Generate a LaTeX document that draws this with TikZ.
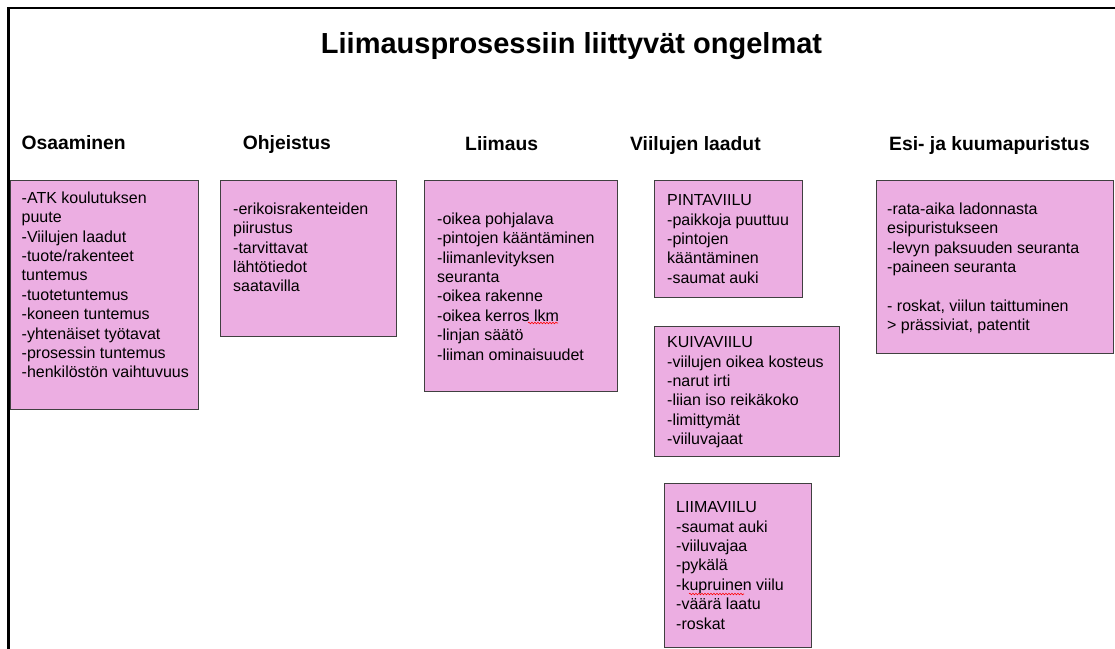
\documentclass[tikz,border=0pt]{standalone}
\usepackage{fontspec}
\setmainfont{Liberation Sans}
\usetikzlibrary{decorations.pathmorphing}

\definecolor{notepink}{RGB}{236,174,226}
\definecolor{noteline}{RGB}{64,64,64}

\begin{document}
\begin{tikzpicture}[x=1pt, y=-1pt,
    box/.style={draw=noteline, fill=notepink, line width=1pt},
    notetext/.style={anchor=north west, inner sep=0pt, align=left,
        font=\fontsize{16}{19.4}\selectfont},
    header/.style={anchor=base west, inner sep=0pt,
        font=\fontsize{19.3}{22}\selectfont\bfseries},
    spellmark/.style={red, line width=0.6pt, decorate,
        decoration={snake, amplitude=0.8pt, segment length=3pt}}]

    % Page area
    \useasboundingbox (0,0) rectangle (1115,648);
    \fill[white] (0,0) rectangle (1115,648);

    % Slide frame
    \draw[line width=2.2pt] (8.5,650) -- (8.5,8) -- (1117,8);

    % Title
    \node[anchor=base, inner sep=0pt, font=\fontsize{29}{32}\selectfont\bfseries]
        (title) at (571.5,53) {Liimausprosessiin liittyvät ongelmat};

    % Column headers
    \node[header] (osaaminen) at (21.5,149) {Osaaminen};
    \node[header] (ohjeistus) at (242.7,149) {Ohjeistus};
    \node[header] (liimaus) at (465,150) {Liimaus};
    \node[header] (laadut) at (630,150) {Viilujen laadut};
    \node[header] (puristus) at (889,150) {Esi- ja kuumapuristus};

    % Osaaminen
    \draw[box] (10,180) rectangle (198,409);
    \node[notetext] (osatext) at (21.5,191.5) {-ATK koulutuksen\\puute\\-Viilujen laadut\\
        -tuote/rakenteet\\tuntemus\\-tuotetuntemus\\-koneen tuntemus\\
        -yhtenäiset työtavat\\-prosessin tuntemus\\-henkilöstön vaihtuvuus};

    % Ohjeistus
    \draw[box] (220,180) rectangle (396,336);
    \node[notetext] (ohjetext) at (233,202.5) {-erikoisrakenteiden\\piirustus\\
        -tarvittavat\\lähtötiedot\\saatavilla};

    % Liimaus
    \draw[box] (424,180) rectangle (617,391);
    \node[notetext] (liimatext) at (437,212.5) {-oikea pohjalava\\-pintojen kääntäminen\\
        -liimanlevityksen\\seuranta\\-oikea rakenne\\-oikea kerros lkm\\
        -linjan säätö\\-liiman ominaisuudet};
    \draw[spellmark] (528,323) -- (558,323);

    % Viilujen laadut
    \draw[box] (654,180) rectangle (802,297);
    \node[notetext] (pintatext) at (667,194.5) {PINTAVIILU\\-paikkoja puuttuu\\
        -pintojen\\kääntäminen\\-saumat auki};

    \draw[box] (654,326) rectangle (839,456);
    \node[notetext] (kuivatext) at (667,336.5) {KUIVAVIILU\\-viilujen oikea kosteus\\
        -narut irti\\-liian iso reikäkoko\\-limittymät\\-viiluvajaat};

    \draw[box] (664,483) rectangle (811,647);
    \node[notetext] (liimavtext) at (676,501.5) {LIIMAVIILU\\-saumat auki\\
        -viiluvajaa\\-pykälä\\-kupruinen viilu\\-väärä laatu\\-roskat};
    \draw[spellmark] (689,594) -- (744,594);

    % Esi- ja kuumapuristus
    \draw[box] (876,180) rectangle (1113.5,353);
    \node[notetext] (esitext) at (887,202.5) {-rata-aika ladonnasta\\esipuristukseen\\
        -levyn paksuuden seuranta\\-paineen seuranta\\[19.4pt]
        - roskat, viilun taittuminen\\> prässiviat, patentit};

\end{tikzpicture}
\end{document}
